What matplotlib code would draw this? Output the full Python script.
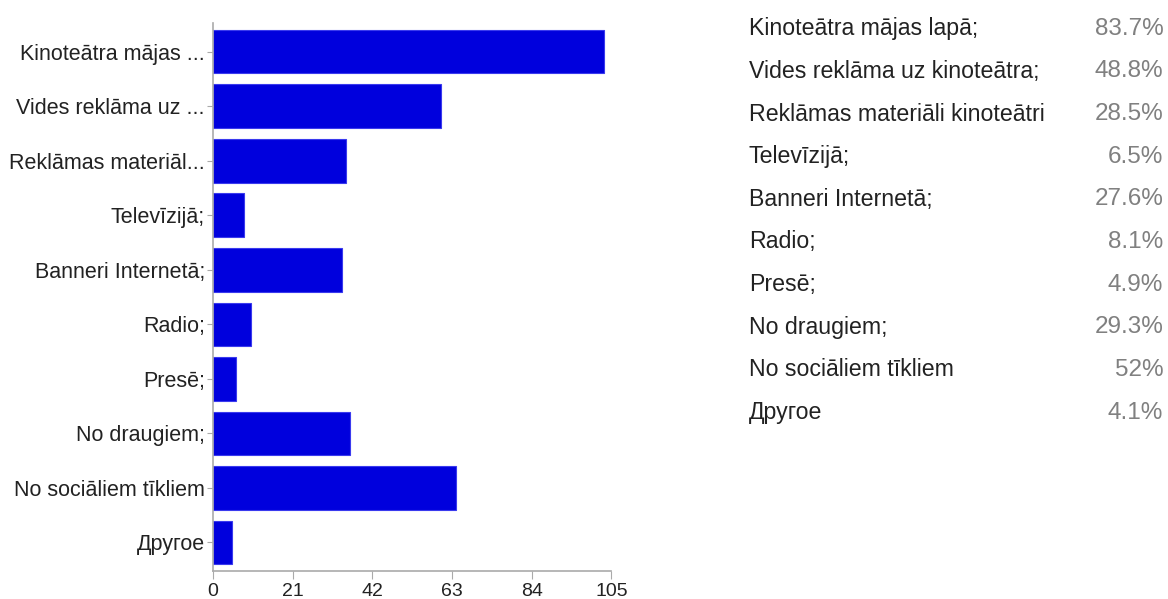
import numpy as np
import matplotlib.pyplot as plt

plt.rcParams['font.family'] = ['Liberation Sans', 'DejaVu Sans']

# survey answers (n = 123)
labels_short = ["Kinoteātra mājas ...", "Vides reklāma uz ...", "Reklāmas materiāl...",
                "Televīzijā;", "Banneri Internetā;", "Radio;", "Presē;",
                "No draugiem;", "No sociāliem tīkliem", "Другое"]
labels_full = ["Kinoteātra mājas lapā;", "Vides reklāma uz kinoteātra;",
               "Reklāmas materiāli kinoteātri", "Televīzijā;", "Banneri Internetā;",
               "Radio;", "Presē;", "No draugiem;", "No sociāliem tīkliem", "Другое"]
counts = [103, 60, 35, 8, 34, 10, 6, 36, 64, 5]
percents = ["83.7%", "48.8%", "28.5%", "6.5%", "27.6%", "8.1%", "4.9%", "29.3%", "52%", "4.1%"]
xticks = [0, 21, 42, 63, 84, 105]

fig = plt.figure(figsize=(11.68, 5.99), dpi=100)
ax = fig.add_axes([0.1825, 0.047, 0.341, 0.915])

y = np.arange(len(counts))
ax.barh(y, counts, height=0.8, color='#0000dd', edgecolor='#3a3aee', linewidth=0.8)
ax.set_ylim(9.52, -0.53)
ax.set_xlim(0, 105)
ax.set_yticks(y)
ax.set_yticklabels(labels_short, fontsize=15.5, color='#222222')
ax.set_xticks(xticks)
ax.set_xticklabels([str(t) for t in xticks], fontsize=14, color='#222222')

for side in ['top', 'right']:
    ax.spines[side].set_visible(False)
for side in ['left', 'bottom']:
    ax.spines[side].set_color('#aaaaaa')
    ax.spines[side].set_linewidth(1.2)
ax.tick_params(axis='y', length=4, color='#aaaaaa', pad=2)
ax.tick_params(axis='x', length=6, color='#aaaaaa', pad=3)

# answer table on the right
row_top = 0.952
row_step = 0.0712
for i, (lab, pct) in enumerate(zip(labels_full, percents)):
    yy = row_top - i * row_step
    fig.text(0.641, yy, lab, fontsize=16.7, color='#222222', va='center', ha='left')
    fig.text(0.996, yy, pct, fontsize=17.5, color='#808080', va='center', ha='right')

fig.savefig('out.png', dpi=100)
